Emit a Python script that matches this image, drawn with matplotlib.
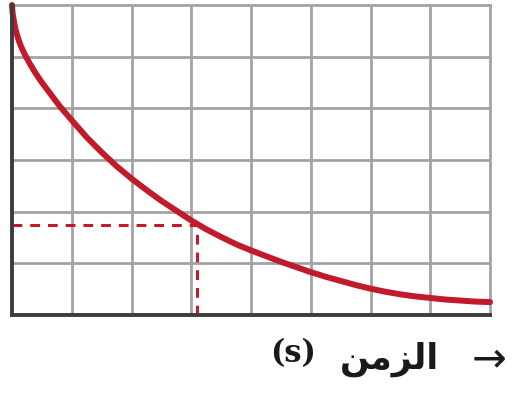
import matplotlib
matplotlib.use("Agg")
import matplotlib.pyplot as plt

# ---- data ----
time_s = [0.0, 0.01, 0.03, 0.06, 0.1, 0.15, 0.22, 0.3, 0.4, 0.5, 0.65, 0.8,
          1.0, 1.25, 1.5, 1.75, 2.0, 2.25, 2.5, 2.75, 3.0, 3.25, 3.5, 3.75,
          4.0, 4.25, 4.5, 4.75, 5.0, 5.25, 5.5, 5.75, 6.0, 6.25, 6.5, 6.75,
          7.0, 7.25, 7.5, 7.75, 8.0]
quantity = [6.0, 5.85, 5.7, 5.52, 5.36, 5.2, 5.03, 4.86, 4.67, 4.5, 4.27,
            4.04, 3.77, 3.44, 3.15, 2.88, 2.64, 2.42, 2.21, 2.02, 1.83, 1.66,
            1.51, 1.37, 1.25, 1.14, 1.03, 0.93, 0.83, 0.74, 0.66, 0.58, 0.51,
            0.45, 0.4, 0.36, 0.33, 0.3, 0.28, 0.26, 0.25]
marked_time = 3.1
marked_value = 1.75
x_ticks = list(range(0, 9))
y_ticks = list(range(0, 7))
label_unit = "(s)"
# "الزمن" written with Arabic presentation forms in visual order (no shaping in matplotlib)
label_word = "\uFEE6\uFEE3\uFEB0\uFEDF\uFE8D"
label_arrow = "\u2192"

RED = "#c11a2b"
GRID = "#a3a3a3"
AXIS = "#3c3c3c"
INK = "#1a1a1a"

fig = plt.figure(figsize=(5.23, 3.93), dpi=100)
ax = fig.add_axes([12 / 523, (393 - 315) / 393, 478 / 523, 310 / 393])
ax.set_xlim(x_ticks[0], x_ticks[-1])
ax.set_ylim(y_ticks[0], y_ticks[-1])

for xv in x_ticks[1:-1]:
    ax.axvline(xv, color=GRID, lw=2.0, zorder=1)
for yv in y_ticks[1:-1]:
    ax.axhline(yv, color=GRID, lw=2.0, zorder=1)

for side in ("top", "right"):
    ax.spines[side].set_color(GRID)
    ax.spines[side].set_linewidth(2.0)
for side in ("left", "bottom"):
    ax.spines[side].set_color(AXIS)
    ax.spines[side].set_linewidth(2.8)
    ax.spines[side].set_zorder(4)

ax.set_xticks([])
ax.set_yticks([])

# dashed guide lines
ax.plot([x_ticks[0], marked_time], [marked_value, marked_value], color=RED,
        lw=2.2, ls=(0, (3.2, 2.6)), zorder=2)
ax.plot([marked_time, marked_time], [y_ticks[0], marked_value], color=RED,
        lw=2.2, ls=(0, (3.2, 2.6)), zorder=2)

# decay curve
ax.plot(time_s, quantity, color=RED, lw=4.3, solid_capstyle="round",
        solid_joinstyle="round", clip_on=False, zorder=3)

# axis label below right
fig.text(293 / 523, 1 - 362 / 393, label_unit, ha="center", va="baseline",
         fontsize=22, fontweight="bold", family=["DejaVu Serif", "DejaVu Sans"],
         color=INK)
fig.text(389 / 523, 1 - 369 / 393, label_word, ha="center", va="baseline",
         fontsize=25, fontweight="bold", family=["DejaVu Sans"], color=INK)
fig.text(489 / 523, 1 - 355 / 393, label_arrow, ha="center", va="center_baseline",
         fontsize=30, family=["DejaVu Sans"], color=INK)

fig.savefig("out.png", dpi=100)
